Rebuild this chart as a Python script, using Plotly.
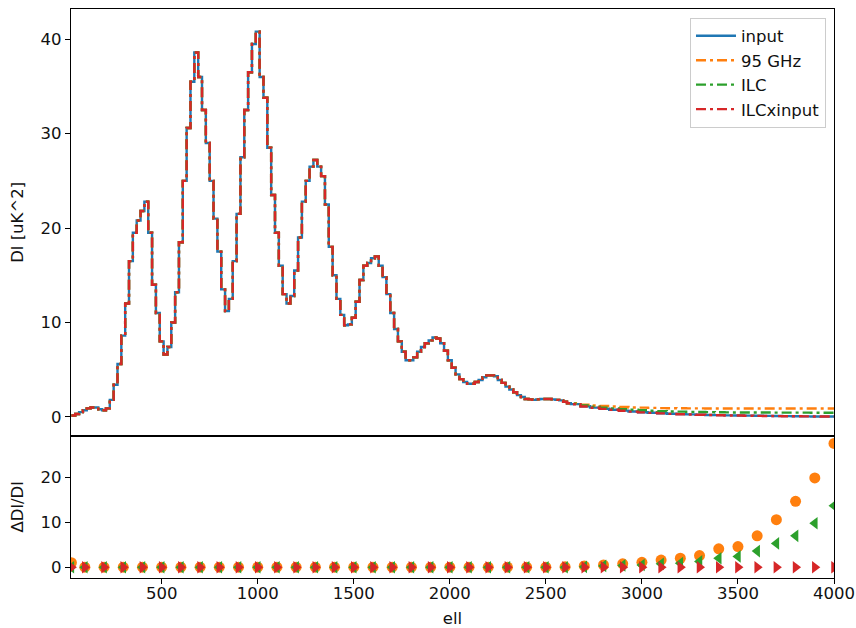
import plotly.graph_objects as go
from plotly.subplots import make_subplots

# ---- data -------------------------------------------------------------
ell_low = list(range(30, 2630, 20))     # bin starts, 20-wide
ell_high = list(range(2630, 4000, 50))  # bin starts, 50-wide
ell_end = 4000

dl_low = [0.15, 0.3, 0.5, 0.7, 0.9, 1.0, 1.0, 0.8, 0.7, 0.9,
          1.8, 3.4, 5.6, 8.6, 12.0, 16.5, 19.5, 20.8, 21.8, 22.8,
          19.5, 14.0, 11.0, 8.0, 6.6, 7.4, 10.0, 13.2, 18.5, 25.0,
          30.6, 35.5, 38.6, 36.0, 32.5, 29.0, 25.0, 21.0, 17.5, 13.5,
          11.2, 12.5, 16.5, 21.5, 27.5, 32.5, 36.5, 39.5, 40.8, 36.0,
          33.8, 28.5, 23.5, 19.5, 16.0, 13.0, 12.0, 12.8, 15.5, 19.0,
          22.8, 25.0, 26.5, 27.2, 26.5, 25.5, 22.5, 18.0, 15.0, 12.5,
          10.8, 9.7, 9.8, 10.5, 12.2, 14.5, 16.0, 16.3, 16.8, 17.0,
          16.0, 14.8, 13.0, 11.0, 9.3, 8.0, 6.9, 6.0, 6.0, 6.3,
          6.9, 7.4, 7.8, 8.1, 8.4, 8.3, 7.8, 7.0, 6.0, 5.2,
          4.5, 4.0, 3.7, 3.5, 3.5, 3.7, 3.9, 4.2, 4.4, 4.4,
          4.3, 3.9, 3.6, 3.2, 2.9, 2.6, 2.3, 2.1, 1.9, 1.85,
          1.8, 1.85, 1.9, 1.9, 1.9, 1.85, 1.8, 1.75, 1.6, 1.45]

input_tail = [1.35, 1.12, 0.98, 0.86, 0.76, 0.66, 0.57, 0.49, 0.43, 0.38,
              0.33, 0.29, 0.26, 0.23, 0.2, 0.18, 0.16, 0.145, 0.13, 0.115,
              0.1, 0.085, 0.075, 0.062, 0.052, 0.044, 0.037, 0.031]
ghz95_tail = [1.45, 1.3, 1.2, 1.15, 1.1, 1.05, 1.0, 0.98, 0.95, 0.93,
              0.92, 0.91, 0.9, 0.9, 0.89, 0.89, 0.88, 0.88, 0.88, 0.88,
              0.88, 0.88, 0.88, 0.88, 0.88, 0.88, 0.88, 0.88]
ilc_tail = [1.4, 1.2, 1.08, 0.98, 0.9, 0.82, 0.75, 0.7, 0.65, 0.61,
            0.57, 0.55, 0.53, 0.51, 0.5, 0.49, 0.48, 0.47, 0.47, 0.46,
            0.46, 0.45, 0.45, 0.45, 0.45, 0.44, 0.44, 0.44]
ilcx_tail = [1.33, 1.1, 0.97, 0.85, 0.75, 0.65, 0.56, 0.48, 0.42, 0.37,
             0.32, 0.28, 0.25, 0.22, 0.19, 0.17, 0.15, 0.14, 0.12, 0.11,
             0.095, 0.08, 0.07, 0.06, 0.05, 0.042, 0.035, 0.03]

ell_ratio = [30, 100, 200, 300, 400, 500, 600, 700, 800, 900, 1000,
             1100, 1200, 1300, 1400, 1500, 1600, 1700, 1800, 1900, 2000,
             2100, 2200, 2300, 2400, 2500, 2600, 2700, 2800, 2900, 3000,
             3100, 3200, 3300, 3400, 3500, 3600, 3700, 3800, 3900, 4000]
ratio_95 = [1.0, 0, 0, 0, 0, 0, 0, 0, 0, 0, 0,
            0, 0, 0, 0, 0, 0, 0, 0, 0, 0,
            0, 0, 0, 0, 0, 0.1, 0.3, 0.5, 0.75, 1.1,
            1.6, 2.0, 2.6, 4.1, 4.6, 7.0, 10.6, 14.7, 19.9, 27.6]
ratio_ilc = [0, 0, 0, 0, 0, 0, 0, 0, 0, 0, 0,
             0, 0, 0, 0, 0, 0, 0, 0, 0, 0,
             0, 0, 0, 0, 0, 0, 0.1, 0.3, 0.4, 0.5,
             0.75, 0.9, 1.3, 2.0, 2.4, 3.6, 5.3, 7.0, 9.8, 13.7]
ratio_ilcx = [0, 0, 0, 0, 0, 0, 0, 0, 0, 0, 0,
              0, 0, 0, 0, 0, 0, 0, 0, 0, 0,
              0, 0, 0, 0, 0, 0, 0, 0, 0, 0,
              0, 0, 0, 0, 0, 0, 0, 0, 0, 0]

labels = ["input", "95 GHz", "ILC", "ILCxinput"]
colors = ["#1f77b4", "#ff7f0e", "#2ca02c", "#d62728"]

# ---- build step series -----------------------------------------------
x_step = ell_low + ell_high + [ell_end]
series = [dl_low + input_tail, dl_low + ghz95_tail, dl_low + ilc_tail, dl_low + ilcx_tail]

FONT = "DejaVu Sans"
FS = 16.5
fig = make_subplots(rows=2, cols=1, shared_xaxes=True, vertical_spacing=0,
                    row_heights=[0.75, 0.25])

dashes = ["solid", "10px,4px,3px,4px", "10px,4px,3px,4px", "10px,4px,3px,4px"]
for name, col, ys, dsh in zip(labels, colors, series, dashes):
    fig.add_trace(go.Scatter(x=x_step, y=ys + [ys[-1]], mode="lines", name=name,
                             line=dict(color=col, width=2.4, dash=dsh, shape="hv")),
                  row=1, col=1)

for ys, col, sym in [(ratio_95, colors[1], "circle"),
                     (ratio_ilc, colors[2], "triangle-left"),
                     (ratio_ilcx, colors[3], "triangle-right")]:
    fig.add_trace(go.Scatter(x=ell_ratio, y=ys, mode="markers", showlegend=False,
                             marker=dict(color=col, size=11, symbol=sym, line=dict(width=0))),
                  row=2, col=1)

axis_common = dict(showline=True, mirror=True, linecolor="black", linewidth=1.2,
                   showgrid=False, zeroline=False, ticks="outside", ticklen=5,
                   tickwidth=1.2, tickcolor="black", automargin=False,
                   tickfont=dict(family=FONT, size=FS, color="#111"))

fig.update_xaxes(**axis_common)
fig.update_yaxes(**axis_common)

fig.update_xaxes(range=[28, 4000], tickvals=[500, 1000, 1500, 2000, 2500, 3000, 3500, 4000],
                 row=2, col=1, ticklabelstandoff=-5,
                 title=dict(text="ell", font=dict(family=FONT, size=FS, color="#111"), standoff=13))
fig.update_xaxes(range=[28, 4000], showticklabels=False, ticks="", row=1, col=1)

fig.update_yaxes(range=[-2.0, 43.2], tickvals=[0, 10, 20, 30, 40], row=1, col=1,
                 title=dict(text="Dl [uK^2]", font=dict(family=FONT, size=FS, color="#111"), standoff=12))
fig.update_yaxes(range=[-2.4, 29.3], tickvals=[0, 10, 20], row=2, col=1,
                 title=dict(text="ΔDl/Dl", font=dict(family=FONT, size=FS, color="#111"), standoff=12))

fig.update_layout(
    width=856, height=628,
    margin=dict(l=71, r=22, t=9, b=50),
    paper_bgcolor="white", plot_bgcolor="white",
    font=dict(family=FONT, size=FS, color="#111"),
    legend=dict(x=0.9895, y=0.985, xanchor="right", yanchor="top",
                bgcolor="rgba(255,255,255,0.8)", bordercolor="#cccccc", borderwidth=1,
                font=dict(family=FONT, size=FS, color="#111"), itemwidth=40),
)

fig.write_html("out.html")
